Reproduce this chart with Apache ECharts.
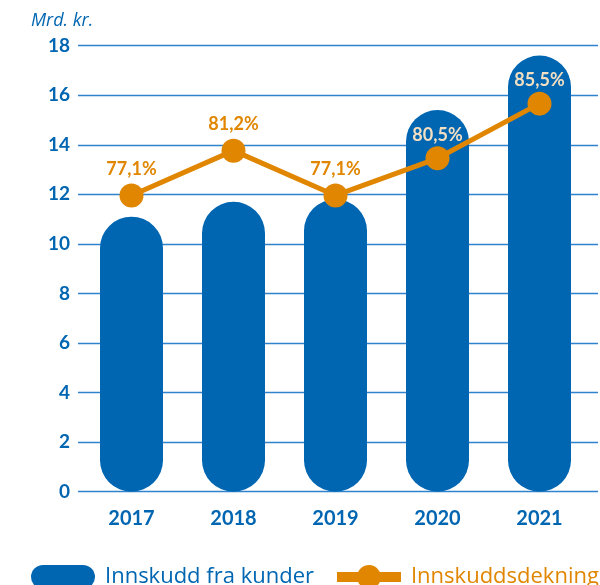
<!DOCTYPE html>
<html>
<head>
<meta charset="utf-8">
<script src="https://cdn.jsdelivr.net/npm/echarts@6/dist/echarts.min.js"></script>
<style>
  html, body { margin: 0; padding: 0; background: #ffffff; }
  #chart { width: 600px; height: 585px; }
</style>
</head>
<body>
<div id="chart"></div>
<script>
// ---- data ----
const years = ['2017', '2018', '2019', '2020', '2021'];
const deposits = [11.1, 11.7, 11.8, 15.4, 17.6];          // Innskudd fra kunder (Mrd. kr.)
const coverage = [77.1, 81.2, 77.1, 80.5, 85.5];          // Innskuddsdekning (%)
const coverageLabels = ['77,1%', '81,2%', '77,1%', '80,5%', '85,5%'];
const onBarLabel = [false, false, false, true, true];
const yTicks = [0, 2, 4, 6, 8, 10, 12, 14, 16, 18];

const BLUE = '#0066b2';
const ORANGE = '#e08600';
const FONT = 'Lato, "Open Sans", sans-serif';
const FONT2 = '"Open Sans", Lato, sans-serif';

const chart = echarts.init(document.getElementById('chart'));

const pillIcon = 'path://M12,0 L52,0 A12,12 0 0 1 52,24 L12,24 A12,12 0 0 1 12,0 Z';
const lineIcon = 'path://M0,7 L21.1,7 A12,12 0 0 1 42.9,7 L64,7 L64,17 L42.9,17 A12,12 0 0 1 21.1,17 L0,17 Z';

chart.setOption({
  animation: false,
  textStyle: { fontFamily: FONT },
  title: {
    text: 'Mrd. kr.',
    left: 31, top: 12, padding: 0,
    textStyle: { fontFamily: FONT2, fontSize: 18, fontStyle: 'italic', fontWeight: 'normal', color: BLUE }
  },
  legend: {
    left: 31, top: 565, padding: 0,
    itemWidth: 64, itemHeight: 24, itemGap: 23,
    textStyle: { fontFamily: FONT2, fontSize: 22, padding: [0, 0, 0, 5] },
    data: [
      { name: 'Innskudd fra kunder', icon: pillIcon, itemStyle: { color: BLUE }, textStyle: { color: BLUE } },
      { name: 'Innskuddsdekning', icon: lineIcon, itemStyle: { color: ORANGE }, textStyle: { color: ORANGE } }
    ]
  },
  grid: [
    { left: 78, right: 2, top: 45.7, bottom: 93.3 },
    { left: 80.5, right: 9.5, top: 45.7, bottom: 93.3 }
  ],
  xAxis: [
    { gridIndex: 0, type: 'category', data: years, show: false },
    {
      gridIndex: 1, type: 'category', data: years,
      axisLine: { show: false }, axisTick: { show: false },
      axisLabel: { margin: 17, fontSize: 20, fontWeight: 'bold', color: BLUE, fontFamily: FONT }
    }
  ],
  yAxis: [
    {
      gridIndex: 0, type: 'value', min: 0, max: 18, interval: 2,
      axisLine: { show: false }, axisTick: { show: false },
      axisLabel: { margin: 8, fontSize: 19, fontWeight: 'bold', color: BLUE, fontFamily: FONT,
        formatter: v => (yTicks.indexOf(v) >= 0 ? String(v) : '') },
      splitLine: { show: true, lineStyle: { color: '#2f83cc', width: 1.3 } }
    },
    { gridIndex: 1, type: 'value', min: 0, max: 18, interval: 2, show: false, splitLine: { show: false } },
    { gridIndex: 1, type: 'value', min: 50, max: 90.8, show: false, splitLine: { show: false } }
  ],
  series: [
    {
      name: 'Innskudd fra kunder', type: 'bar', xAxisIndex: 1, yAxisIndex: 1,
      data: deposits, barWidth: 63,
      itemStyle: { color: BLUE, borderRadius: 31.5 },
      z: 2
    },
    {
      name: 'Innskuddsdekning', type: 'line', xAxisIndex: 1, yAxisIndex: 2,
      data: coverage.map((v, i) => ({
        value: v,
        label: onBarLabel[i] ? { color: '#f3dfc2', distance: 2 } : {}
      })),
      symbol: 'circle', symbolSize: 24,
      lineStyle: { color: ORANGE, width: 5 },
      itemStyle: { color: ORANGE },
      label: {
        show: true, position: 'top', distance: 5,
        fontSize: 18, fontWeight: 'bold', color: ORANGE, fontFamily: FONT,
        formatter: p => coverageLabels[p.dataIndex]
      },
      z: 3
    }
  ]
});
</script>
</body>
</html>
